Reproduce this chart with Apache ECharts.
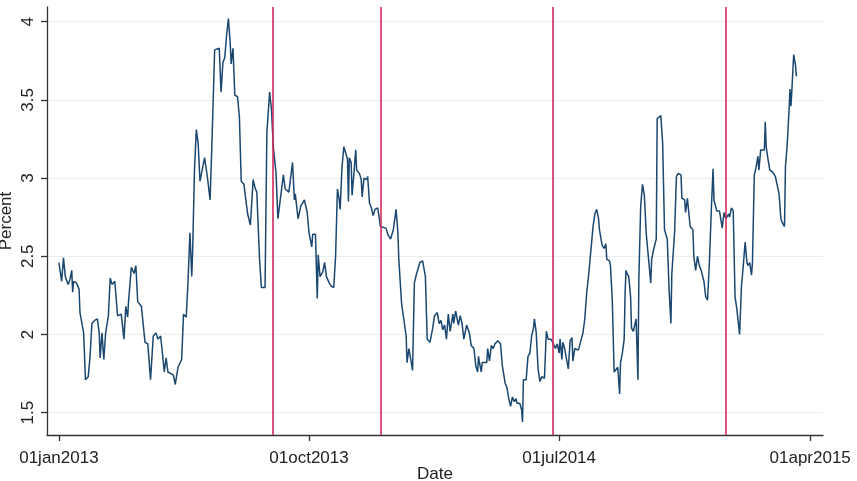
<!DOCTYPE html>
<html>
<head>
<meta charset="utf-8">
<title>Percent by date</title>
<script src="https://cdn.jsdelivr.net/npm/echarts@6/dist/echarts.min.js"></script>
<style>
  html, body { margin: 0; padding: 0; background: #fff; }
  #chart { width: 857px; height: 481px; }
</style>
</head>
<body>
<div id="chart"></div>
<script>
// days since 01jan2013
const days = [
  0, 3, 5, 7, 10, 12, 14, 15, 16, 19, 22, 23, 27, 29, 32, 34, 36, 39, 42, 44,
  45, 47, 49, 51, 54, 56, 58, 61, 64, 68, 71, 73, 75, 76, 79, 82, 84, 86, 90, 94,
  97, 100, 103, 106, 108, 111, 113, 115, 117, 119, 121, 125, 127, 130, 134, 136, 139, 141, 143, 145,
  146, 148, 150, 152, 154, 157, 159, 162, 165, 167, 170, 175, 177, 179, 181, 183, 185, 187, 188, 190,
  192, 195, 197, 199, 202, 204, 206, 209, 212, 214, 216, 219, 221, 225, 227, 230, 232, 234, 237, 239,
  242, 245, 247, 251, 255, 257, 258, 261, 264, 268, 271, 273, 276, 277, 280, 282, 283, 285, 288, 290,
  292, 295, 297, 300, 302, 304, 306, 307, 309, 311, 313, 315, 316, 317, 319, 320, 322, 324, 325, 328,
  330, 331, 333, 336, 337, 339, 341, 343, 345, 348, 351, 353, 357, 359, 362, 365, 368, 370, 371, 374,
  376, 379, 380, 382, 384, 386, 388, 390, 392, 394, 397, 399, 400, 402, 405, 408, 410, 413, 415, 417,
  419, 421, 423, 425, 427, 430, 431, 433, 436, 438, 440, 442, 445, 447, 448, 450, 453, 455, 457, 458,
  459, 461, 462, 464, 467, 468, 470, 472, 474, 476, 478, 479, 482, 484, 487, 489, 491, 493, 495, 497,
  499, 500, 503, 505, 506, 507, 510, 512, 514, 516, 518, 519, 521, 523, 525, 527, 529, 530, 532, 534,
  537, 539, 542, 544, 546, 547, 549, 550, 552, 554, 556, 558, 560, 561, 563, 567, 569, 572, 574, 576,
  578, 580, 581, 583, 585, 587, 589, 590, 592, 593, 595, 597, 598, 601, 602, 604, 606, 608, 610, 612,
  613, 615, 617, 618, 619, 620, 622, 624, 625, 627, 629, 630, 632, 633, 635, 637, 639, 641, 643, 646,
  647, 649, 652, 653, 655, 657, 659, 661, 663, 664, 666, 668, 669, 672, 674, 676, 679, 680, 683, 684,
  686, 688, 689, 692, 693, 695, 697, 699, 701, 703, 704, 706, 708, 710, 712, 714, 715, 717, 718, 721,
  723, 724, 726, 728, 731, 732, 734, 736, 738, 740, 742, 743, 745, 747, 749, 751, 752, 754, 756, 757,
  759, 761, 763, 764, 766, 768, 770, 771, 772, 774, 776, 779, 782, 784, 786, 788, 790, 792, 793, 795,
  797, 798, 799, 800, 802, 804, 805
];
const percent = [
  2.46, 2.34, 2.49, 2.37, 2.32, 2.35, 2.41, 2.27, 2.34, 2.33, 2.29, 2.14, 2.01, 1.71, 1.73, 1.86, 2.07, 2.09, 2.10, 2.01,
  1.85, 2.01, 1.84, 2.01, 2.12, 2.36, 2.32, 2.34, 2.12, 2.13, 1.97, 2.18, 2.11, 2.21, 2.43, 2.39, 2.44, 2.21, 2.18, 1.95,
  1.94, 1.71, 1.99, 2.01, 1.97, 1.99, 1.88, 1.76, 1.85, 1.76, 1.76, 1.74, 1.68, 1.79, 1.84, 2.13, 2.11, 2.35, 2.65, 2.37,
  2.54, 3.06, 3.31, 3.22, 2.98, 3.07, 3.13, 3.01, 2.86, 3.22, 3.82, 3.83, 3.55, 3.74, 3.77, 3.91, 4.02, 3.86, 3.73, 3.83,
  3.53, 3.52, 3.39, 2.98, 2.96, 2.86, 2.77, 2.70, 2.99, 2.94, 2.91, 2.48, 2.30, 2.30, 3.29, 3.55, 3.44, 3.20, 3.03, 2.74,
  2.88, 3.02, 2.93, 2.91, 3.10, 2.86, 2.90, 2.74, 2.82, 2.86, 2.78, 2.65, 2.56, 2.64, 2.64, 2.23, 2.51, 2.37, 2.40, 2.46,
  2.37, 2.33, 2.31, 2.30, 2.50, 2.93, 2.86, 2.80, 3.07, 3.20, 3.16, 3.12, 2.85, 3.13, 3.10, 2.89, 3.03, 3.18, 3.05, 3.03,
  2.99, 2.88, 3.00, 2.99, 3.01, 2.84, 2.81, 2.76, 2.80, 2.81, 2.69, 2.69, 2.68, 2.64, 2.61, 2.67, 2.80, 2.65, 2.48, 2.20,
  2.19, 1.99, 1.82, 1.91, 1.84, 1.77, 2.33, 2.38, 2.39, 2.46, 2.47, 2.46, 2.37, 1.97, 1.95, 2.04, 2.12, 2.14, 2.07, 2.09,
  2.03, 2.06, 1.97, 2.13, 2.02, 2.13, 2.07, 2.15, 2.06, 2.12, 2.07, 1.97, 2.06, 2.07, 2.01, 1.93, 1.91, 1.80, 1.76, 1.86,
  1.82, 1.76, 1.82, 1.83, 1.82, 1.91, 1.83, 1.93, 1.91, 1.94, 1.95, 1.96, 1.94, 1.80, 1.69, 1.66, 1.59, 1.54, 1.60, 1.57,
  1.59, 1.56, 1.56, 1.52, 1.44, 1.71, 1.71, 1.86, 1.88, 1.99, 2.04, 2.10, 2.01, 1.78, 1.70, 1.73, 1.72, 1.72, 2.02, 1.97,
  1.97, 1.95, 1.91, 1.94, 1.88, 1.97, 1.84, 1.95, 1.91, 1.92, 1.78, 1.96, 1.98, 1.83, 1.91, 1.90, 1.91, 2.01, 2.10, 2.26,
  2.37, 2.38, 2.56, 2.69, 2.77, 2.80, 2.74, 2.67, 2.60, 2.57, 2.55, 2.58, 2.48, 2.47, 2.44, 2.22, 1.76, 1.77, 1.79, 1.62,
  1.82, 1.88, 1.97, 2.27, 2.41, 2.39, 2.37, 2.24, 2.04, 2.02, 2.03, 2.10, 1.71, 2.35, 2.82, 2.96, 2.89, 2.65, 2.52, 2.33,
  2.48, 2.54, 2.61, 3.38, 3.38, 3.40, 3.22, 2.67, 2.63, 2.61, 2.29, 2.07, 2.39, 2.65, 3.01, 3.03, 3.02, 2.87, 2.86, 2.78,
  2.87, 2.86, 2.69, 2.67, 2.50, 2.41, 2.50, 2.44, 2.41, 2.40, 2.34, 2.24, 2.22, 2.46, 2.78, 3.06, 2.86, 2.86, 2.79, 2.79,
  2.78, 2.68, 2.78, 2.74, 2.77, 2.75, 2.81, 2.79, 2.24, 2.16, 2.15, 2.00, 2.31, 2.44, 2.59, 2.46, 2.44, 2.46, 2.38, 2.46,
  3.02, 3.07, 3.14, 3.05, 3.18, 3.17, 3.18, 3.36, 3.20, 3.12, 3.05, 3.04, 3.01, 3.00, 2.90, 2.74, 2.71, 2.69, 3.07, 3.22,
  3.44, 3.57, 3.46, 3.56, 3.79, 3.72, 3.65
];

// vertical event lines
const eventDates = ['2013-08-22', '2013-12-18', '2014-06-24', '2014-12-30'];

// axis ticks
const xTickDates = ['2013-01-01', '2013-10-01', '2014-07-01', '2015-04-01'];
const xTickLabels = ['01jan2013', '01oct2013', '01jul2014', '01apr2015'];
const yTicks = [1.5, 2, 2.5, 3, 3.5, 4];

// dates -> days since 01jan2013
const DAY = 86400000;
const start = Date.UTC(2013, 0, 1);
const toDay = s => {
  const p = s.split('-').map(Number);
  return Math.round((Date.UTC(p[0], p[1] - 1, p[2]) - start) / DAY);
};
const tickDays = xTickDates.map(toDay);

const seriesData = days.map((d, i) => [d, percent[i]]);

const chart = echarts.init(document.getElementById('chart'), null, { renderer: 'canvas' });

const textStyle = { fontFamily: 'Liberation Sans, Arial, sans-serif', color: '#222', fontSize: 17 };
const axisColor = '#333';

chart.setOption({
  animation: false,
  backgroundColor: '#fff',
  grid: { left: 47, right: 34, top: 7, bottom: 46, containLabel: false, outerBoundsMode: 'none' },
  xAxis: {
    type: 'value',
    min: toDay('2012-12-19'),
    max: toDay('2015-04-15'),
    name: 'Date',
    nameLocation: 'middle',
    nameGap: 31,
    nameMoveOverlap: false,
    nameTextStyle: textStyle,
    axisLine: { onZero: false, lineStyle: { color: axisColor, width: 1.3 } },
    axisTick: { show: true, length: 6, customValues: tickDays, lineStyle: { color: axisColor, width: 1.3 } },
    axisLabel: {
      customValues: tickDays,
      margin: 15,
      ...textStyle,
      formatter: v => {
        const i = tickDays.indexOf(v);
        return i >= 0 ? xTickLabels[i] : '';
      }
    },
    splitLine: { show: false }
  },
  yAxis: {
    type: 'value',
    min: 1.357,
    max: 4.094,
    name: 'Percent',
    nameLocation: 'middle',
    nameGap: 32,
    nameMoveOverlap: false,
    nameTextStyle: textStyle,
    axisLine: { show: true, onZero: false, lineStyle: { color: axisColor, width: 1.3 } },
    axisTick: { show: true, length: 6, customValues: yTicks, lineStyle: { color: axisColor, width: 1.3 } },
    axisLabel: { customValues: yTicks, rotate: 90, margin: 10, ...textStyle },
    splitLine: { show: true, lineStyle: { color: '#e6eef0', width: 1 } }
  },
  series: [{
    type: 'line',
    data: seriesData,
    showSymbol: false,
    lineStyle: { color: '#1a476f', width: 1.5 },
    itemStyle: { color: '#1a476f' },
    markLine: {
      silent: true,
      symbol: 'none',
      label: { show: false },
      lineStyle: { color: '#d42a5a', type: 'solid', width: 1.6 },
      data: eventDates.map(d => ({ xAxis: toDay(d) }))
    }
  }]
});
</script>
</body>
</html>
